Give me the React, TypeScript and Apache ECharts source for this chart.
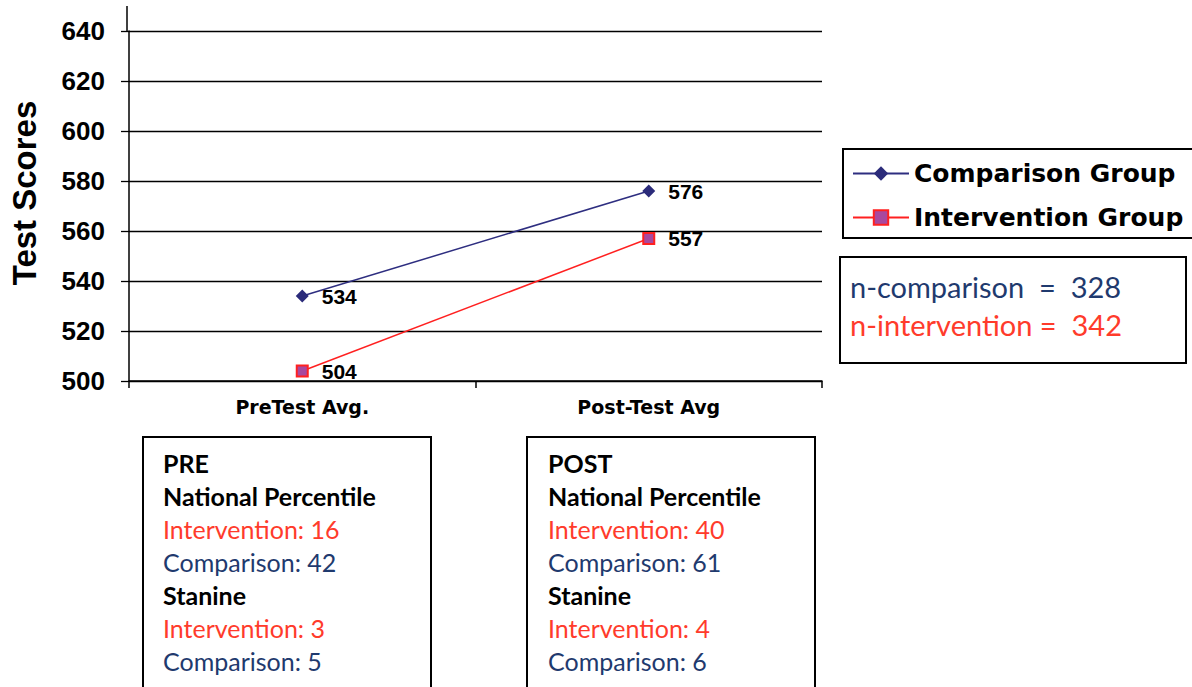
import React, { useEffect, useRef } from "react";
import * as echarts from "echarts";

const categories = ["PreTest Avg.", "Post-Test Avg"];
const comparisonScores = [534, 576];
const interventionScores = [504, 557];
const seriesNames = ["Comparison Group", "Intervention Group"];
const yMin = 500;
const yMax = 640;
const yInterval = 20;

const nLines = [
  { text: "n-comparison  =  328", color: "#1F3A6E" },
  { text: "n-intervention =  342", color: "#FF3B2B" },
];

const preLines = [
  { text: "PRE", bold: true, color: "#000" },
  { text: "National Percentile", bold: true, color: "#000" },
  { text: "Intervention: 16", bold: false, color: "#FF3B2B" },
  { text: "Comparison: 42", bold: false, color: "#1F3A6E" },
  { text: "Stanine", bold: true, color: "#000" },
  { text: "Intervention: 3", bold: false, color: "#FF3B2B" },
  { text: "Comparison: 5", bold: false, color: "#1F3A6E" },
];

const postLines = [
  { text: "POST", bold: true, color: "#000" },
  { text: "National Percentile", bold: true, color: "#000" },
  { text: "Intervention: 40", bold: false, color: "#FF3B2B" },
  { text: "Comparison: 61", bold: false, color: "#1F3A6E" },
  { text: "Stanine", bold: true, color: "#000" },
  { text: "Intervention: 4", bold: false, color: "#FF3B2B" },
  { text: "Comparison: 6", bold: false, color: "#1F3A6E" },
];

const ARIAL = "'Liberation Sans', Arial, sans-serif";
const WIDE = "'DejaVu Sans', sans-serif";
const CALIBRI = "Lato, 'Open Sans', sans-serif";

function boxTexts(lines: typeof preLines, x: number, y0: number, step: number) {
  return lines.map((l, i) => ({
    type: "text",
    left: x,
    top: y0 + i * step,
    style: {
      text: l.text,
      fill: l.color,
      font: `${l.bold ? "bold " : ""}25px ${CALIBRI}`,
    },
  }));
}

export default function App() {
  const ref = useRef<HTMLDivElement>(null);
  useEffect(() => {
    document.body.style.margin = "0";
    if (!ref.current) return;
    const chart = echarts.init(ref.current, undefined, { renderer: "svg" });
    const labelStyle = {
      show: true,
      position: "right",
      distance: 13,
      fontFamily: ARIAL,
      fontWeight: "bold",
      fontSize: 21,
      color: "#000",
    };
    chart.setOption({
      animation: false,
      backgroundColor: "#fff",
      grid: { left: 127, right: 370, top: 31, bottom: 306, containLabel: false },
      legend: {
        orient: "vertical",
        left: 843,
        top: 149,
        data: seriesNames,
        borderColor: "#000",
        borderWidth: 2,
        padding: [12, 13, 8, 9],
        itemGap: 19,
        itemWidth: 56,
        itemHeight: 18,
        textStyle: { fontFamily: WIDE, fontWeight: "bold", fontSize: 25, color: "#000" },
      },
      xAxis: {
        type: "category",
        data: categories,
        boundaryGap: true,
        axisLine: { lineStyle: { color: "#000", width: 1.5 } },
        axisTick: { show: true, length: 7, lineStyle: { color: "#000", width: 1.5 } },
        axisLabel: { fontFamily: WIDE, fontWeight: "bold", fontSize: 19, color: "#000", margin: 16 },
      },
      yAxis: {
        type: "value",
        min: yMin,
        max: yMax,
        interval: yInterval,
        name: "Test Scores",
        nameLocation: "middle",
        nameGap: 88,
        nameTextStyle: {
          fontFamily: ARIAL,
          fontWeight: "bold",
          fontSize: 33,
          color: "#000",
          padding: [0, 0, 0, 26],
        },
        axisLine: { show: true, lineStyle: { color: "#000", width: 1.5 } },
        axisTick: { show: true, length: 8, lineStyle: { color: "#000", width: 1.3 } },
        splitLine: { show: true, lineStyle: { color: "#000", width: 1.3 } },
        axisLabel: { fontFamily: ARIAL, fontWeight: "bold", fontSize: 26, color: "#000", margin: 24 },
      },
      series: [
        {
          name: seriesNames[0],
          type: "line",
          data: comparisonScores,
          symbol: "diamond",
          symbolSize: 13,
          itemStyle: { color: "#2B2B7A" },
          lineStyle: { color: "#2E2E80", width: 1.5 },
          label: labelStyle,
        },
        {
          name: seriesNames[1],
          type: "line",
          data: interventionScores,
          symbol: "rect",
          symbolSize: 11,
          itemStyle: { color: "#A8489E", borderColor: "#FF2020", borderWidth: 2 },
          lineStyle: { color: "#FF2020", width: 1.5 },
          label: labelStyle,
        },
      ],
      graphic: [
        {
          type: "line",
          shape: { x1: 127, y1: 6, x2: 127, y2: 31 },
          style: { stroke: "#000", lineWidth: 1.5 },
        },
        {
          type: "rect",
          shape: { x: 840, y: 257, width: 346, height: 106 },
          style: { fill: "#fff", stroke: "#000", lineWidth: 2 },
        },
        ...nLines.map((l, i) => ({
          type: "text",
          left: 850,
          top: 272 + i * 38,
          style: { text: l.text, fill: l.color, font: `29px ${CALIBRI}` },
        })),
        {
          type: "rect",
          shape: { x: 143, y: 437, width: 288, height: 270 },
          style: { fill: "#fff", stroke: "#000", lineWidth: 2 },
        },
        ...boxTexts(preLines, 163, 450, 33),
        {
          type: "rect",
          shape: { x: 527, y: 437, width: 288, height: 270 },
          style: { fill: "#fff", stroke: "#000", lineWidth: 2 },
        },
        ...boxTexts(postLines, 548, 450, 33),
      ],
    });
    return () => chart.dispose();
  }, []);
  return <div ref={ref} style={{ width: 1192, height: 687 }} />;
}
